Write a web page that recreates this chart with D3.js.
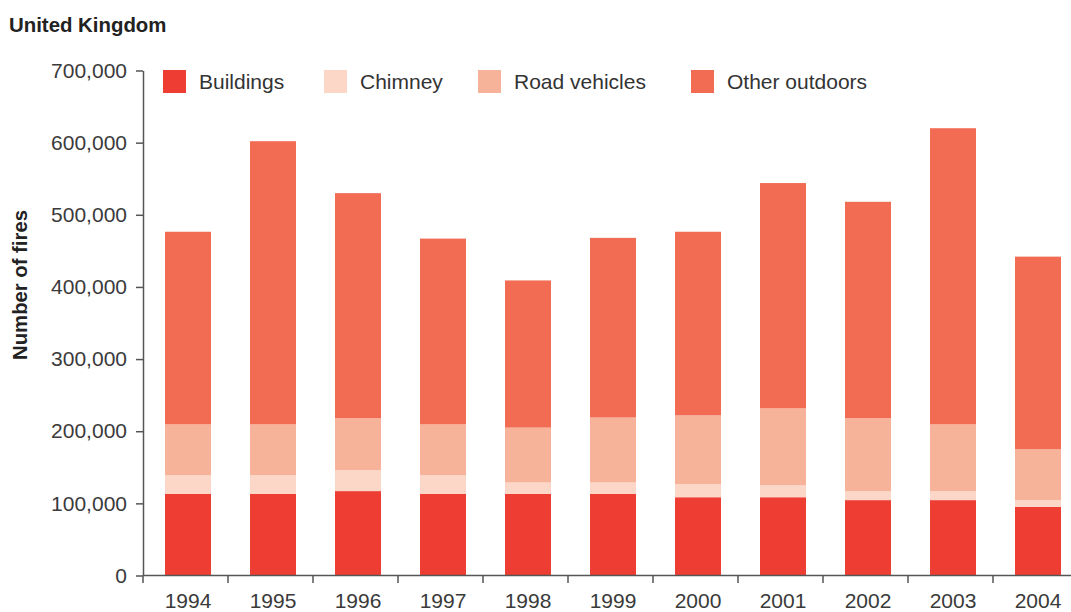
<!DOCTYPE html>
<html lang='en'>
	<head>
		<meta charset='utf-8'>
		<title>Fires UK</title>
		<script type='text/javascript' src='https://cdn.jsdelivr.net/npm/d3@7'></script>
		<style>
			body { margin: 0; background: #fff; }
			svg { font-family: 'Liberation Sans', Arial, sans-serif; }
			.axis text { font-size: 21px; fill: #3a3a3a; }
			.axis path, .axis line { stroke: #555; stroke-width: 1.5px; }
		</style>
	</head>
	<body>
		<script type='text/javascript'>
			var years = ['1994','1995','1996','1997','1998','1999','2000','2001','2002','2003','2004'];
			var seriesNames = ['Buildings','Chimney','Road vehicles','Other outdoors'];
			var seriesColors = ['#ee3e34','#fcd6c6','#f7b29a','#f26c54'];
			// values in number of fires
			var buildings = [113000,113000,117000,113000,113000,113000,108500,108500,104500,104500,95000];
			var chimney   = [26000,26000,29000,26000,16000,16000,18000,16500,12500,12500,9500];
			var road      = [70500,70500,72000,70500,76000,90000,95500,106700,101000,92500,70500];
			var other     = [267000,392500,312000,257500,204000,249000,254500,312300,300000,410500,267000];
			var yTicks = [0,100000,200000,300000,400000,500000,600000,700000];

			var width = 1071, height = 612;
			var svg = d3.select('body').append('svg')
				.attr('width', width)
				.attr('height', height);

			var rows = years.map(function(yr, i) {
				return { year: yr, 'Buildings': buildings[i], 'Chimney': chimney[i],
					'Road vehicles': road[i], 'Other outdoors': other[i] };
			});
			var stacked = d3.stack().keys(seriesNames)(rows);

			// band boundaries (tick marks) and bar positions
			var xb = d3.scaleBand().domain(years).range([143, 143 + 85 * 11]);
			var xbar = d3.scaleBand().domain(years).range([145.5, 145.5 + 85 * 11])
				.paddingInner(0.459).paddingOuter(0.2295);
			var y = d3.scaleLinear().domain([0, 700000]).range([575.5, 70.5]);
			var color = d3.scaleOrdinal().domain(seriesNames).range(seriesColors);

			svg.append('g').selectAll('g')
				.data(stacked).enter().append('g')
					.attr('fill', function(d) { return color(d.key); })
				.selectAll('rect')
					.data(function(d) { return d; })
					.enter().append('rect')
						.attr('x', function(d) { return xbar(d.data.year); })
						.attr('width', xbar.bandwidth())
						.attr('y', function(d) { return y(d[1]); })
						.attr('height', function(d) { return y(d[0]) - y(d[1]); });

			// y axis
			svg.append('g').attr('class','axis')
				.attr('transform','translate(143,0)')
				.call(d3.axisLeft(y).tickValues(yTicks).tickSize(7).tickSizeOuter(0)
					.tickPadding(9).tickFormat(d3.format(',')));

			// x axis
			var xa = svg.append('g').attr('class','axis');
			xa.append('line')
				.attr('x1', 143).attr('x2', width)
				.attr('y1', y(0)).attr('y2', y(0));
			xa.selectAll('line.tick')
				.data(years).enter().append('line')
					.attr('class','tick')
					.attr('x1', function(d) { return xb(d); })
					.attr('x2', function(d) { return xb(d); })
					.attr('y1', y(0)).attr('y2', y(0) + 7.5);
			xa.selectAll('text')
				.data(years).enter().append('text')
					.attr('x', function(d) { return xbar(d) + xbar.bandwidth() / 2; })
					.attr('y', 608)
					.attr('text-anchor','middle')
					.text(function(d) { return d; });

			// titles
			svg.append('text')
				.attr('x', 9).attr('y', 32)
				.style('font-size','20.4px').style('font-weight','bold').style('fill','#222')
				.text('United Kingdom');
			svg.append('text')
				.attr('transform','translate(27,285) rotate(-90)')
				.attr('text-anchor','middle')
				.style('font-size','20.3px').style('font-weight','bold').style('fill','#222')
				.text('Number of fires');

			// legend
			var legendX = [163, 324, 478, 691];
			var lg = svg.append('g').selectAll('g')
				.data(seriesNames).enter().append('g')
					.attr('transform', function(d, i) { return 'translate(' + legendX[i] + ',70)'; });
			lg.append('rect')
				.attr('width', 23).attr('height', 23)
				.attr('fill', function(d) { return color(d); });
			lg.append('text')
				.attr('x', 36).attr('y', 19)
				.style('font-size','21px').style('fill','#333')
				.text(function(d) { return d; });
		</script>
	</body>
</html>
